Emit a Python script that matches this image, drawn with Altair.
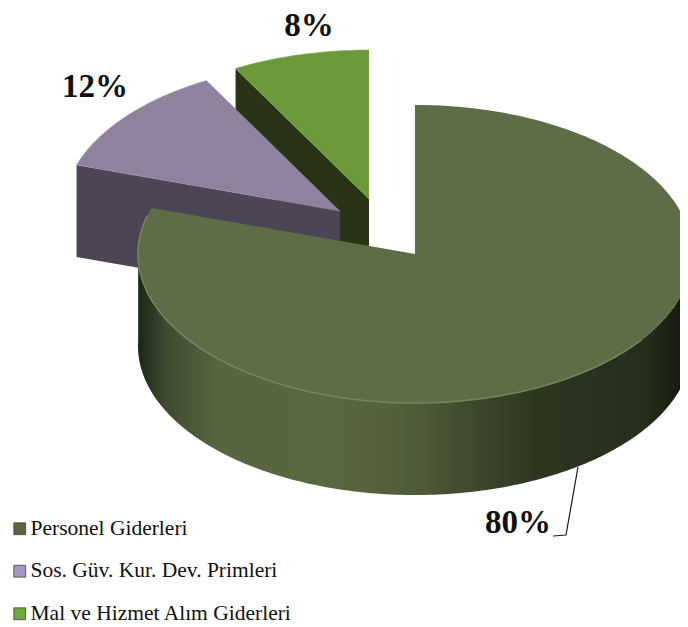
import math
import altair as alt
import pandas as pd

CATEGORIES = ["Personel Giderleri", "Sos. Güv. Kur. Dev. Primleri", "Mal ve Hizmet Alım Giderleri"]
SHARES = [80, 12, 8]
LABELS = ["80%", "12%", "8%"]
LEGEND_COLORS = ["#56663f", "#a497c0", "#6fa83a"]

W, H = 672, 619
RX, RY, DEPTH = 277, 149, 92
CENTERS = {"main": (415, 254), "purple": (340, 211), "green": (369, 199)}

sx = alt.Scale(domain=[8, 680], range=[0, W])
sy = alt.Scale(domain=[8, 627], range=[0, H])


def pt(c, deg, dy=0):
    a = math.radians(deg)
    return (c[0] + RX * math.sin(a), c[1] - RY * math.cos(a) + dy)


def arc(c, a0, a1, dy=0):
    n = max(2, int(abs(a1 - a0)) + 1)
    return [pt(c, a0 + (a1 - a0) * i / (n - 1), dy) for i in range(n)]


def poly(points, fill, stroke=None, sw=0):
    df = pd.DataFrame(points, columns=["x", "y"])
    df["i"] = range(len(df))
    kw = dict(fill=fill, clip=True, interpolate="linear")
    if stroke:
        kw.update(stroke=stroke, strokeWidth=sw)
    else:
        kw.update(strokeWidth=0)
    return alt.Chart(df).mark_line(**kw).encode(
        x=alt.X("x:Q", scale=sx, axis=None),
        y=alt.Y("y:Q", scale=sy, axis=None),
        order="i:Q",
    )


a_main = SHARES[0] * 3.6
a_purple = a_main + SHARES[1] * 3.6
cm, cp, cg = CENTERS["main"], CENTERS["purple"], CENTERS["green"]

# green slice
g_edge = pt(cg, a_purple)
green_wall = poly([cg, g_edge, (g_edge[0], g_edge[1] + DEPTH), (cg[0], cg[1] + DEPTH)], "#293416")
green_top = poly([cg] + arc(cg, a_purple, 360), "#6c9a3b", "#7fa858", 0.5)

# purple slice
p_edge = pt(cp, a_main)
purple_wall = poly([cp, p_edge, (p_edge[0], p_edge[1] + DEPTH), (cp[0], cp[1] + DEPTH)], "#4c4556")
purple_top = poly([cp] + arc(cp, a_main, a_purple), "#8f829f", "#a093ae", 0.5)

# main slice
wall_fill = alt.Gradient(
    gradient="linear", x1=0, x2=1, y1=0, y2=0,
    stops=[
        alt.GradientStop(offset=0.0, color="#1c2613"),
        alt.GradientStop(offset=0.05, color="#3e4a31"),
        alt.GradientStop(offset=0.14, color="#566440"),
        alt.GradientStop(offset=0.35, color="#5a683f"),
        alt.GradientStop(offset=0.5, color="#4f5c39"),
        alt.GradientStop(offset=0.63, color="#3a442a"),
        alt.GradientStop(offset=0.72, color="#2e3620"),
        alt.GradientStop(offset=0.92, color="#262d1b"),
        alt.GradientStop(offset=1.0, color="#11160c"),
    ],
)
main_wall = poly(arc(cm, 88, 272) + arc(cm, 272, 88, DEPTH), wall_fill)
main_top = poly([cm] + arc(cm, 0, a_main), "#5e6c47")
rim = alt.Chart(pd.DataFrame(arc(cm, 125, 285), columns=["x", "y"]).assign(i=lambda d: range(len(d)))).mark_line(
    color="#74885a", strokeWidth=1.5, clip=True
).encode(x=alt.X("x:Q", scale=sx, axis=None), y=alt.Y("y:Q", scale=sy, axis=None), order="i:Q")

# leader line
leader_x = [578, 566, 553]
leader_y = [467, 535, 536]
leader = alt.Chart(pd.DataFrame({"x": leader_x, "y": leader_y, "i": [0, 1, 2]})).mark_line(
    color="#1a1a1a", strokeWidth=1.2
).encode(x=alt.X("x:Q", scale=sx, axis=None), y=alt.Y("y:Q", scale=sy, axis=None), order="i:Q")

# percentage labels
label_x = [518, 95, 309]
label_y = [523, 87, 26]
labels = alt.Chart(pd.DataFrame({"x": label_x, "y": label_y, "t": LABELS})).mark_text(
    font="Liberation Serif", fontSize=33, fontWeight="bold", color="#111111", baseline="middle", align="center"
).encode(x=alt.X("x:Q", scale=sx, axis=None), y=alt.Y("y:Q", scale=sy, axis=None), text="t:N")

# legend carrier
legend_layer = alt.Chart(pd.DataFrame({"c": CATEGORIES, "x": [100] * 3, "y": [100] * 3})).mark_point(
    filled=True, size=1, opacity=0
).encode(
    x=alt.X("x:Q", scale=sx, axis=None),
    y=alt.Y("y:Q", scale=sy, axis=None),
    color=alt.Color(
        "c:N",
        scale=alt.Scale(domain=CATEGORIES, range=LEGEND_COLORS),
        legend=alt.Legend(
            orient="none", legendX=1, legendY=510, title=None,
            symbolType="square", symbolSize=140, symbolOpacity=1,
            symbolStrokeColor="#3f3f3f", symbolStrokeWidth=0.8,
            labelFont="Liberation Serif", labelFontSize=21.5, labelColor="#111111",
            rowPadding=19.5, labelOffset=0, labelLimit=400,
        ),
    ),
)

chart = alt.layer(
    green_wall, green_top, purple_wall, purple_top, main_wall, main_top, rim, leader, labels, legend_layer
).properties(
    width=W, height=H, padding=0, autosize=alt.AutoSizeParams(type="none"), background="white"
).configure_view(stroke=None)

chart.save("out.html", embed_options={"renderer": "svg", "actions": False})
